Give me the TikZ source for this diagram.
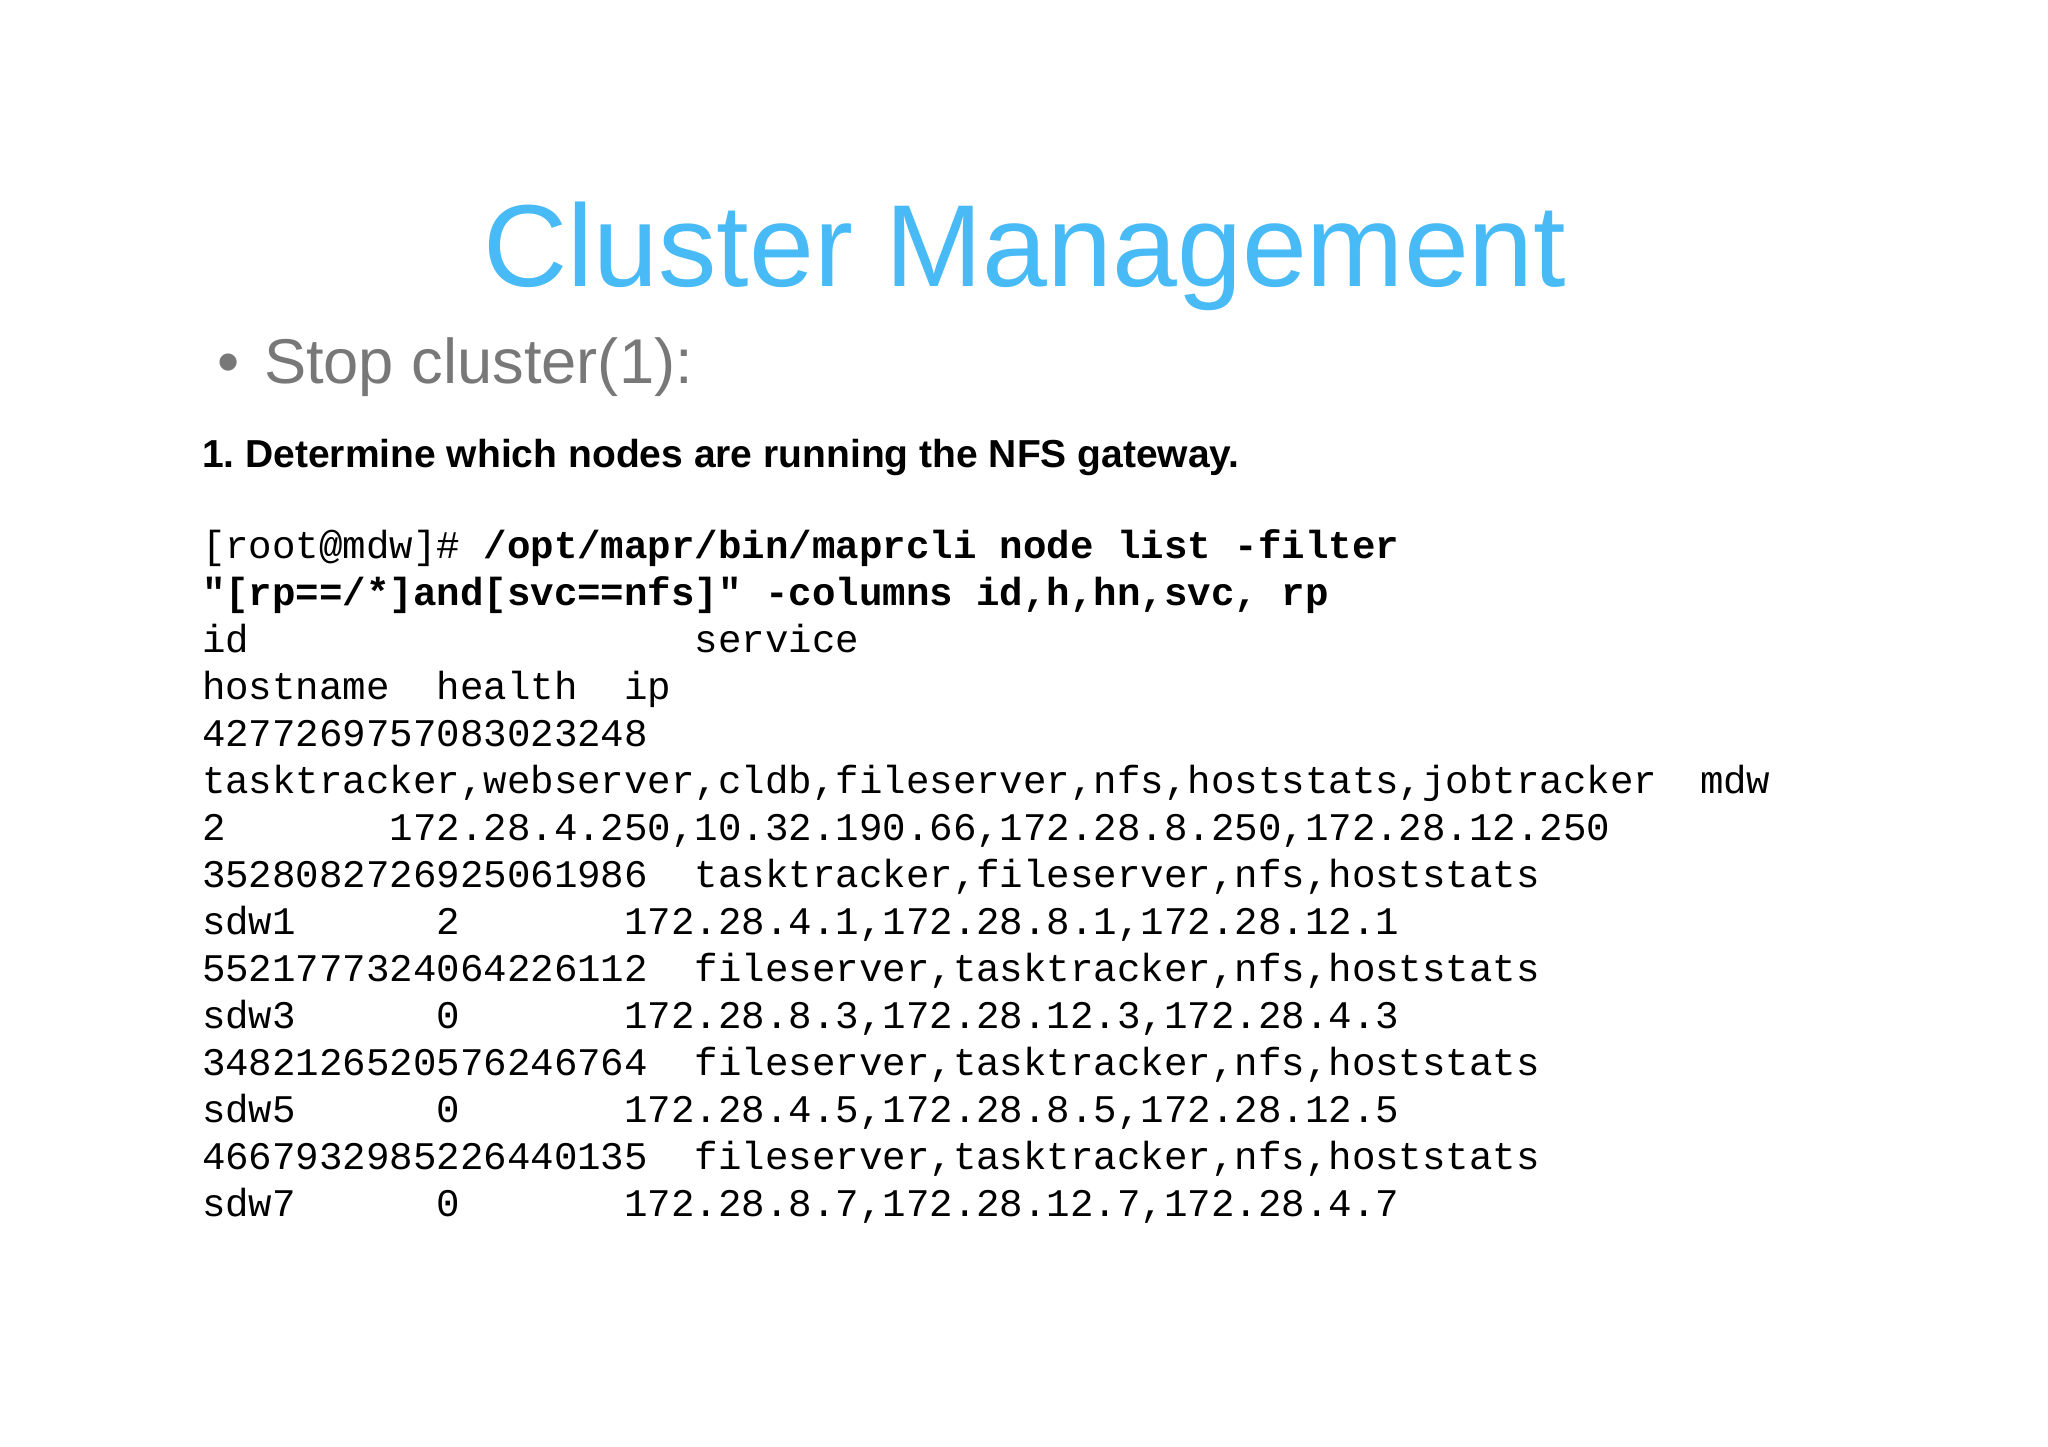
\documentclass[tikz,border=0pt]{standalone}
\usepackage{fontspec}
\setmainfont{Liberation Sans}
\setmonofont{Liberation Mono}
\frenchspacing
\definecolor{titleblue}{RGB}{72,186,245}
\definecolor{bulletgray}{RGB}{120,120,120}
\tikzset{
  txt/.style={anchor=base west, inner sep=0pt, outer sep=0pt},
  code/.style={txt, font=\fontsize{11.13}{13}\selectfont\ttfamily},
  bcode/.style={code, font=\fontsize{11.13}{13}\selectfont\ttfamily\bfseries}
}
\newcommand{\cw}{0.2347}
\newcommand{\lx}{2.02}
\newcommand{\ly}[1]{14.47-5.59-0.47*#1}
\begin{document}
\begin{tikzpicture}
\useasboundingbox (0,0) rectangle (20.48,14.47);
\fill[white] (0,0) rectangle (20.48,14.47);
\node[anchor=base, inner sep=0pt, text=titleblue, font=\fontsize{33.2}{38}\selectfont] (title) at (10.25,14.47-2.87) {Cluster Management};
\node[txt, text=bulletgray, font=\fontsize{18}{22}\selectfont] (bul) at (2.17,14.47-3.84) {•};
\node[txt, text=bulletgray, font=\fontsize{18}{22}\selectfont] (stop) at (2.64,14.47-3.84) {Stop cluster(1):};
\node[txt, font=\fontsize{11.1}{14}\selectfont\bfseries] (step1) at (2.02,14.47-4.68) {1. Determine which nodes are running the NFS gateway.};
% code lines
\node[code] (l1a) at (\lx,{\ly{0}}) {[root@mdw]\#};
\node[bcode] (l1b) at ({\lx+12*\cw},{\ly{0}}) {/opt/mapr/bin/maprcli node list -filter};
\node[bcode] (l2) at (\lx,{\ly{1}}) {"[rp==/*]and[svc==nfs]" -columns id,h,hn,svc, rp};
\node[code] (l3a) at (\lx,{\ly{2}}) {id};
\node[code] (l3b) at ({\lx+21*\cw},{\ly{2}}) {service};
\node[code] (l4a) at (\lx,{\ly{3}}) {hostname};
\node[code] (l4b) at ({\lx+10*\cw},{\ly{3}}) {health};
\node[code] (l4c) at ({\lx+18*\cw},{\ly{3}}) {ip};
\node[code] (l5) at (\lx,{\ly{4}}) {4277269757083023248};
\node[code] (l6a) at (\lx,{\ly{5}}) {tasktracker,webserver,cldb,fileserver,nfs,hoststats,jobtracker};
\node[code] (l6b) at (17.00,{\ly{5}}) {mdw};
\node[code] (l7a) at (\lx,{\ly{6}}) {2};
\node[code] (l7b) at ({\lx+8*\cw},{\ly{6}}) {172.28.4.250,10.32.190.66,172.28.8.250,172.28.12.250};
\node[code] (l8a) at (\lx,{\ly{7}}) {3528082726925061986};
\node[code] (l8b) at ({\lx+21*\cw},{\ly{7}}) {tasktracker,fileserver,nfs,hoststats};
\node[code] (l9a) at (\lx,{\ly{8}}) {sdw1};
\node[code] (l9b) at ({\lx+10*\cw},{\ly{8}}) {2};
\node[code] (l9c) at ({\lx+18*\cw},{\ly{8}}) {172.28.4.1,172.28.8.1,172.28.12.1};
\node[code] (l10a) at (\lx,{\ly{9}}) {5521777324064226112};
\node[code] (l10b) at ({\lx+21*\cw},{\ly{9}}) {fileserver,tasktracker,nfs,hoststats};
\node[code] (l11a) at (\lx,{\ly{10}}) {sdw3};
\node[code] (l11b) at ({\lx+10*\cw},{\ly{10}}) {0};
\node[code] (l11c) at ({\lx+18*\cw},{\ly{10}}) {172.28.8.3,172.28.12.3,172.28.4.3};
\node[code] (l12a) at (\lx,{\ly{11}}) {3482126520576246764};
\node[code] (l12b) at ({\lx+21*\cw},{\ly{11}}) {fileserver,tasktracker,nfs,hoststats};
\node[code] (l13a) at (\lx,{\ly{12}}) {sdw5};
\node[code] (l13b) at ({\lx+10*\cw},{\ly{12}}) {0};
\node[code] (l13c) at ({\lx+18*\cw},{\ly{12}}) {172.28.4.5,172.28.8.5,172.28.12.5};
\node[code] (l14a) at (\lx,{\ly{13}}) {4667932985226440135};
\node[code] (l14b) at ({\lx+21*\cw},{\ly{13}}) {fileserver,tasktracker,nfs,hoststats};
\node[code] (l15a) at (\lx,{\ly{14}}) {sdw7};
\node[code] (l15b) at ({\lx+10*\cw},{\ly{14}}) {0};
\node[code] (l15c) at ({\lx+18*\cw},{\ly{14}}) {172.28.8.7,172.28.12.7,172.28.4.7};
\end{tikzpicture}
\end{document}
